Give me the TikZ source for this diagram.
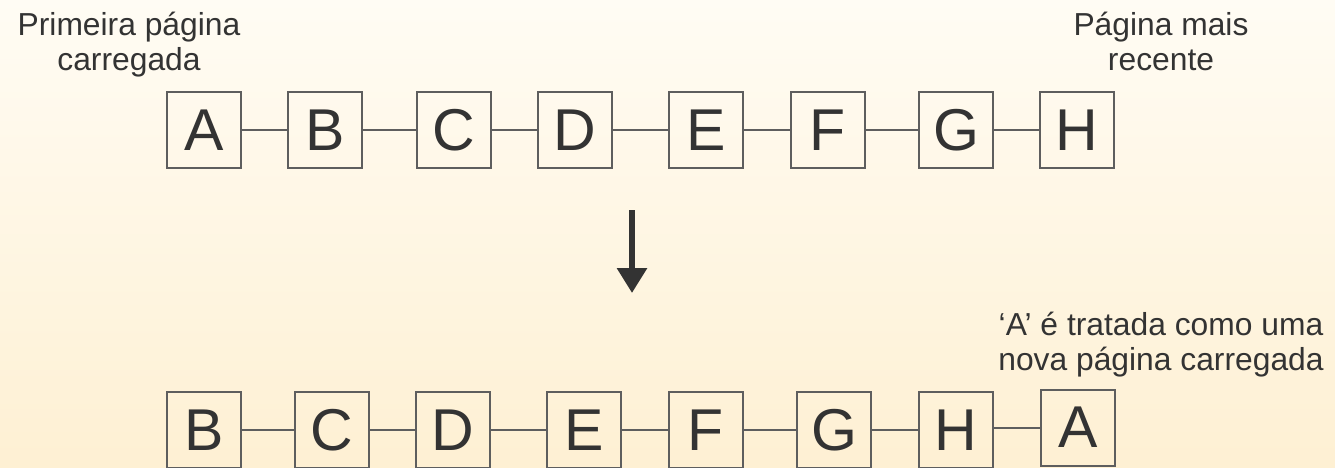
\documentclass[tikz,border=0pt]{standalone}
\usepackage{fontspec}
\setmainfont{Liberation Sans}
\usetikzlibrary{arrows.meta}

\definecolor{bgtop}{HTML}{FFFCF4}
\definecolor{bgbottom}{HTML}{FEF0D3}
\definecolor{inktext}{HTML}{333333}
\definecolor{boxline}{HTML}{5E5E5E}

\tikzset{
  page/.style={draw=boxline, line width=2pt, minimum width=74pt, minimum height=76pt,
    inner sep=0pt, text=inktext, font=\fontsize{59}{59}\selectfont},
  link/.style={draw=boxline, line width=2pt},
  caption/.style={align=center, inner sep=0pt, text=inktext,
    font=\fontsize{31.8}{35.5}\selectfont},
  flow/.style={draw=inktext, line width=6pt,
    -{Triangle[width=29pt,length=25pt]}}
}

\begin{document}
\begin{tikzpicture}[x=1pt, y=-1pt]
  % background with a soft vertical gradient
  \shade[top color=bgtop, bottom color=bgbottom] (0,0) rectangle (1335,467);
  \useasboundingbox (0,0) rectangle (1335,467);

  % initial queue of pages
  \node[page] (tA) at (204,130) {A};
  \node[page] (tB) at (325,130) {B};
  \node[page] (tC) at (454,130) {C};
  \node[page] (tD) at (575,130) {D};
  \node[page] (tE) at (706,130) {E};
  \node[page] (tF) at (828,130) {F};
  \node[page] (tG) at (956,130) {G};
  \node[page] (tH) at (1077,130) {H};
  \foreach \a/\b in {tA/tB,tB/tC,tC/tD,tD/tE,tE/tF,tF/tG,tG/tH}
    \draw[link] (\a.east) -- (\b.west);

  % captions of the initial queue
  \node[caption, anchor=north] (first) at (129,11.5) {Primeira página\\carregada};
  \node[caption, anchor=north] (recent) at (1161,11.5) {Página mais\\recente};

  % transition arrow
  \coordinate (arrowtop) at (632,210);
  \coordinate (arrowtip) at (632,293);
  \draw[flow] (arrowtop) -- (arrowtip);

  % queue after page A is moved to the end
  \node[page] (bB) at (204,430) {B};
  \node[page] (bC) at (332,430) {C};
  \node[page] (bD) at (453,430) {D};
  \node[page] (bE) at (584,430) {E};
  \node[page] (bF) at (706,430) {F};
  \node[page] (bG) at (834,430) {G};
  \node[page] (bH) at (956,430) {H};
  \node[page] (bA) at (1078,427.5) {A};
  \foreach \a/\b in {bB/bC,bC/bD,bD/bE,bE/bF,bF/bG,bG/bH}
    \draw[link] (\a.east) -- (\b.west);
  \draw[link] (bA.west -| bH.east) -- (bA.west);

  \node[caption, anchor=north] (renewed) at (1161,311.5)
    {‘A’ é tratada como uma\\nova página carregada};
\end{tikzpicture}
\end{document}
